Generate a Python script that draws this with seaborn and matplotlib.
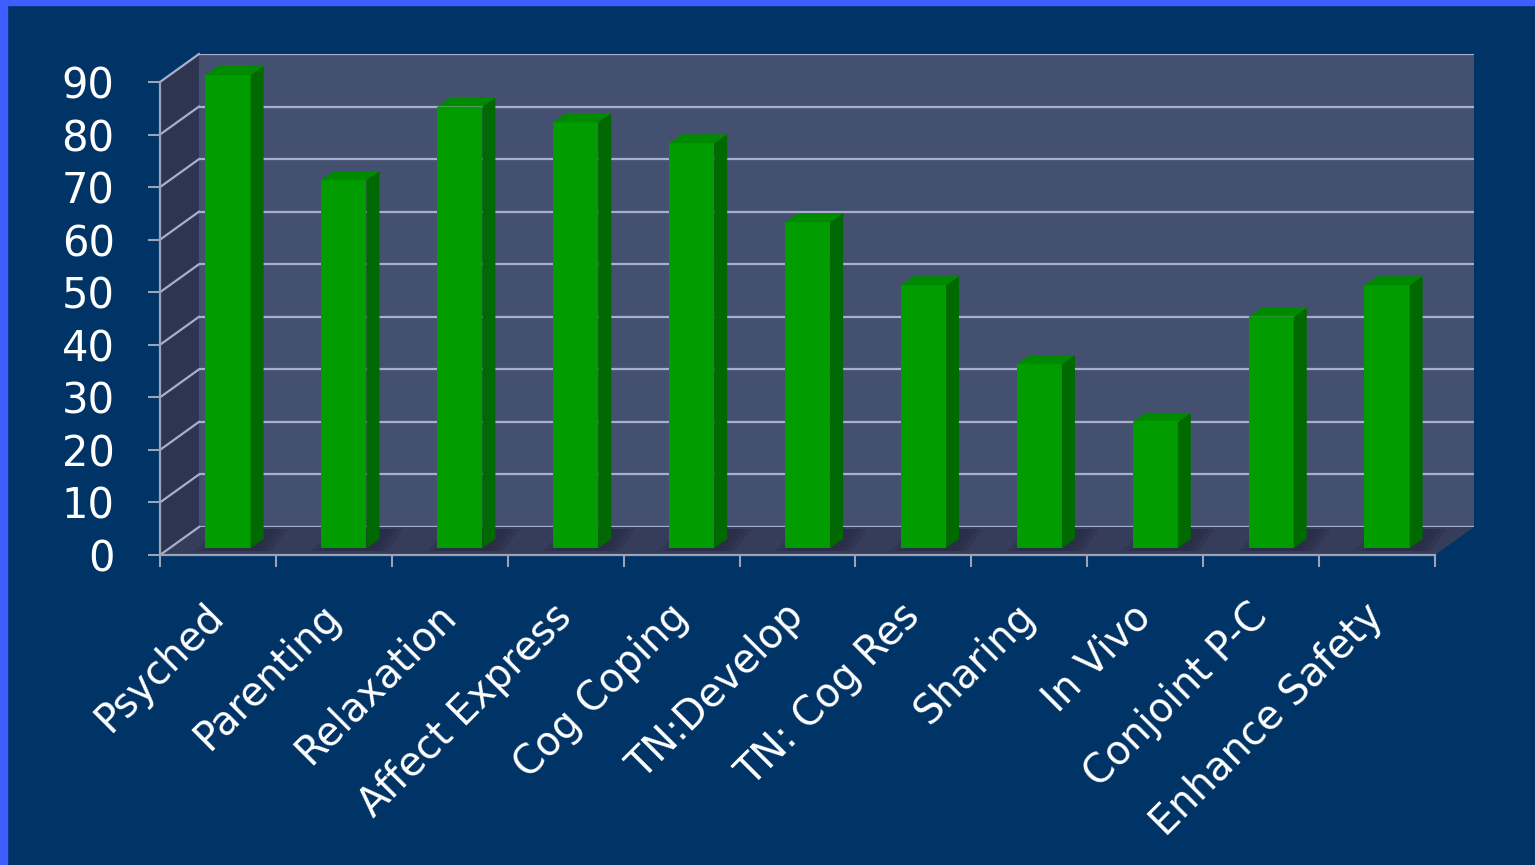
import numpy as np
import pandas as pd
import matplotlib.pyplot as plt
from matplotlib.patches import Polygon, Rectangle
from matplotlib.lines import Line2D
from matplotlib.transforms import IdentityTransform
import seaborn as sns

# chart data
categories = ["Psyched", "Parenting", "Relaxation", "Affect Express", "Cog Coping",
              "TN:Develop", "TN: Cog Res", "Sharing", "In Vivo", "Conjoint P-C",
              "Enhance Safety"]
values = [90, 70, 84, 81, 77, 62, 50, 35, 24, 44, 50]
yticks = list(range(0, 100, 10))

df = pd.DataFrame({"skill": categories, "pct": values})

plt.rcParams['font.family'] = ['DejaVu Sans']

W, H = 1535, 865
def box(l, t, r, b):
    # pixel box (from top-left) -> figure fraction rect
    return [l / W, 1 - b / H, (r - l) / W, (b - t) / H]

fig = plt.figure(figsize=(W / 100, H / 100), dpi=100, facecolor='#003366')
px = IdentityTransform()

# bright blue frame on the left and top
fig.add_artist(Rectangle((0, 0), 7, H, transform=px, color='#3F5EFF', zorder=10))
fig.add_artist(Rectangle((0, H - 5), W, 5, transform=px, color='#3F5EFF', zorder=10))

xlim = (-0.5, len(categories) - 0.5)
ylim = (0, 90)

# back wall
ax_back = fig.add_axes(box(199, 54, 1474, 527), zorder=0)
ax_back.set_facecolor('#44506F')
ax_back.set_xlim(xlim); ax_back.set_ylim(ylim)
ax_back.set_xticks([]); ax_back.set_yticks(yticks)
ax_back.tick_params(length=0, labelleft=False)
ax_back.yaxis.grid(True, color='#A7AFCD', lw=1.6)
ax_back.xaxis.grid(False)
for s in ax_back.spines.values():
    s.set_visible(False)

# front plane (axis lines, ticks and labels)
ax_front = fig.add_axes(box(160, 82, 1435, 555), zorder=4)
ax_front.set_facecolor('none')
ax_front.set_xlim(xlim); ax_front.set_ylim(ylim)

# plane where the bar fronts sit
ax_bar = fig.add_axes(box(170, 75, 1445, 548), zorder=2)
ax_bar.set_facecolor('none')
sns.barplot(data=df, x="skill", y="pct", color='#009C00', saturation=1,
            width=0.39, edgecolor='none', ax=ax_bar)
ax_bar.set_xlim(xlim); ax_bar.set_ylim(ylim)
ax_bar.axis('off')

# side wall and floor between front and back planes
fa = ax_front.transAxes.transform
ba = ax_back.transAxes.transform
side = [fa((0, 0)), ba((0, 0)), ba((0, 1)), fa((0, 1))]
floor = [fa((0, 0)), fa((1, 0)), ba((1, 0)), ba((0, 0))]
fig.add_artist(Polygon(side, closed=True, transform=px, facecolor='#2D3550',
                       edgecolor='none', zorder=0.5))
fig.add_artist(Polygon(floor, closed=True, transform=px, facecolor='#363D5A',
                       edgecolor='none', zorder=0.5))
for v in yticks:
    p1 = ax_front.transData.transform((xlim[0], v))
    p2 = ax_back.transData.transform((xlim[0], v))
    fig.add_artist(Line2D([p1[0], p2[0]], [p1[1], p2[1]], transform=px,
                          color='#A7AFCD', lw=1.6, zorder=0.6))

# 3d faces of the bars
dx, dy = 13, 9
for p in ax_bar.patches:
    x0, y0 = ax_bar.transData.transform((p.get_x(), p.get_y()))
    x1, y1 = ax_bar.transData.transform((p.get_x() + p.get_width(),
                                         p.get_y() + p.get_height()))
    # soft shadow on the floor
    for k, a in [(0, 0.22), (6, 0.22), (12, 0.22)]:
        fig.add_artist(Polygon([(x0 - 10 + k, y0 - 3), (x1 + dx + 8 - k, y0 - 3),
                                (x1 + dx + 24 - k, y0 + 19), (x0 + 10 + k, y0 + 19)],
                               closed=True, transform=px, facecolor='#20243A',
                               alpha=a, edgecolor='none', zorder=0.7))
    fig.add_artist(Polygon([(x1, y0), (x1 + dx, y0 + dy), (x1 + dx, y1 + dy), (x1, y1)],
                           closed=True, transform=px, facecolor='#006A00',
                           edgecolor='none', zorder=3))
    fig.add_artist(Polygon([(x0, y1), (x0 + dx, y1 + dy), (x1 + dx, y1 + dy), (x1, y1)],
                           closed=True, transform=px, facecolor='#008A00',
                           edgecolor='none', zorder=3))

# front axis styling
axis_col = '#9CA3B8'
for name, s in ax_front.spines.items():
    if name in ('left', 'bottom'):
        s.set_color(axis_col); s.set_linewidth(1.6)
    else:
        s.set_visible(False)
ax_front.set_yticks(yticks)
ax_front.set_yticklabels([str(t) for t in yticks])
ax_front.tick_params(axis='y', length=8.6, width=1.5, color=axis_col, pad=24,
                     labelsize=30, labelcolor='white')
ax_front.set_xticks(range(len(categories)))
ax_front.set_xticklabels(categories, rotation=45, ha='right', va='center',
                         rotation_mode='anchor')
ax_front.set_xticks(np.arange(xlim[0], xlim[1] + 0.5, 1), minor=True)
ax_front.tick_params(axis='x', which='major', length=0, pad=40,
                     labelsize=28.5, labelcolor='white')
ax_front.tick_params(axis='x', which='minor', length=8.6, width=1.5, color=axis_col)
ax_front.set_xlabel(''); ax_front.set_ylabel('')
ax_front.grid(False)

fig.savefig('out.png', dpi=100, facecolor=fig.get_facecolor())
